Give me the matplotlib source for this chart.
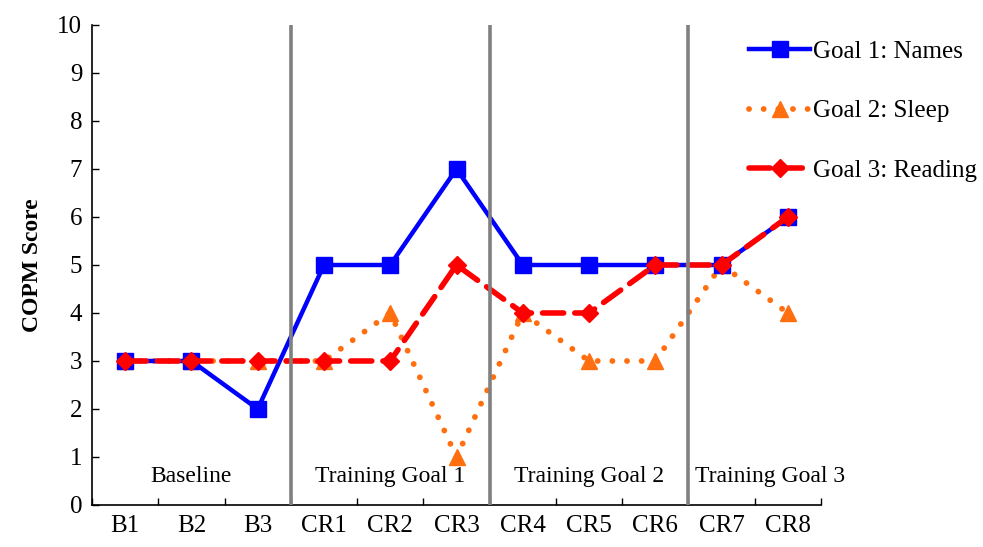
import matplotlib.pyplot as plt

# data
sessions = ['B1', 'B2', 'B3', 'CR1', 'CR2', 'CR3', 'CR4', 'CR5', 'CR6', 'CR7', 'CR8']
goal1_names = [3, 3, 2, 5, 5, 7, 5, 5, 5, 5, 6]
goal2_sleep = [3, 3, 3, 3, 4, 1, 4, 3, 3, 5, 4]
goal3_reading = [3, 3, 3, 3, 3, 5, 4, 4, 5, 5, 6]
phase_labels = ['Baseline', 'Training Goal 1', 'Training Goal 2', 'Training Goal 3']
phase_breaks = [2.5, 5.5, 8.5]

plt.rcParams['font.family'] = ['Liberation Serif', 'DejaVu Serif']

fig = plt.figure(figsize=(9.83, 5.47), dpi=100)
ax = fig.add_axes([0.0936, 0.0768, 0.7416, 0.8775])

x = list(range(len(sessions)))

ax.plot(x, goal2_sleep, color='#FF6F0F', lw=4.2, ls=(0, (0.01, 2.5)),
        dash_capstyle='round', marker='^', ms=12, label='Goal 2: Sleep', zorder=2)
ax.plot(x, goal1_names, color='#0000FF', lw=3.2, marker='s', ms=11,
        label='Goal 1: Names', zorder=3)
ax.plot(x, goal3_reading, color='#FF0000', lw=4, ls=(0, (3.8, 2.0)),
        dash_capstyle='round', marker='D', ms=9.5, label='Goal 3: Reading', zorder=4)

for b in phase_breaks:
    ax.axvline(b, color='#808080', lw=2.6, zorder=5)

# phase labels
centers = [1.0, 4.0, 7.0]
for c, lab in zip(centers, phase_labels[:3]):
    ax.text(c, 0.6, lab, ha='center', va='center', fontsize=17)
ax.text(8.6, 0.6, phase_labels[3], ha='left', va='center', fontsize=17, clip_on=False)

ax.set_xlim(-0.5, 10.5)
ax.set_ylim(0, 10)
ax.set_yticks(range(0, 11))
ax.set_xticks([i - 0.5 for i in range(12)])
ax.set_xticklabels([])
ax.set_xticks(x, minor=True)
ax.set_xticklabels(sessions, minor=True)
ax.tick_params(axis='x', which='major', direction='in', length=5, width=1)
ax.tick_params(axis='x', which='minor', length=0, labelsize=18, pad=7)
ax.tick_params(axis='y', direction='in', length=5, width=1, labelsize=18, pad=7)
for s in ['top', 'right']:
    ax.spines[s].set_visible(False)
ax.spines['left'].set_linewidth(1.2)
ax.spines['bottom'].set_linewidth(1.2)

ax.set_ylabel('COPM Score', fontsize=17, fontweight='bold', labelpad=10)

h, l = ax.get_legend_handles_labels()
order = [1, 0, 2]
ax.legend([h[i] for i in order], [l[i] for i in order], loc='upper left',
          bbox_to_anchor=(0.752, 0.944), bbox_transform=fig.transFigure,
          frameon=False, fontsize=18, handlelength=2.45, handletextpad=0.1,
          labelspacing=1.47, borderaxespad=0)

fig.savefig('out.png', dpi=100)
